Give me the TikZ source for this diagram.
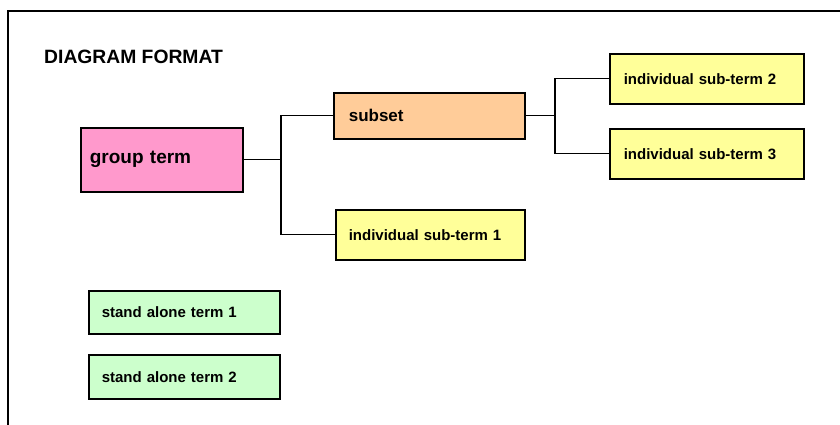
\documentclass[tikz,border=0pt]{standalone}
\usepackage{fontspec}
\setmainfont{Liberation Sans}
\usepackage{tikz}
\usetikzlibrary{calc}
\usepackage{xcolor}
\definecolor{groupPink}{HTML}{FF99CC}
\definecolor{subsetOrange}{HTML}{FFCC99}
\definecolor{subYellow}{HTML}{FFFF99}
\definecolor{aloneGreen}{HTML}{CCFFCC}

\begin{document}
\begin{tikzpicture}[x=1pt, y=-1pt,
    term/.style={draw, line width=1.6pt, rectangle, anchor=north west, align=left,
        inner ysep=0pt, font=\bfseries\fontsize{15}{18}\selectfont},
    link/.style={line width=1.1pt}]
    % Cadre de la page
    \useasboundingbox (0,0) rectangle (840,425);
    \draw[line width=2] (8,425) -- (8,11) -- (840,11);

    % Titre
    \node[anchor=west, inner sep=0pt, font=\bfseries\fontsize{19.3}{22}\selectfont] (title) at (44,57) {DIAGRAM FORMAT};

    % Terme de groupe et sous-ensemble
    \node[term, fill=groupPink, minimum height=64, text width=144, inner xsep=9,
        font=\bfseries\fontsize{19}{22}\selectfont] (group) at (80,127) {group term};
    \node[term, fill=subsetOrange, minimum height=46, text width=161, inner xsep=15,
        font=\bfseries\fontsize{17}{20}\selectfont] (subset) at (333,92) {subset};

    % Sous-termes individuels
    \node[term, fill=subYellow, minimum height=50, text width=163, inner xsep=13] (ind1) at (335,209) {individual sub-term 1};
    \node[term, fill=subYellow, minimum height=50, text width=166, inner xsep=14] (ind2) at (609,53) {individual sub-term 2};
    \node[term, fill=subYellow, minimum height=50, text width=166, inner xsep=14] (ind3) at (609,128) {individual sub-term 3};

    % Termes autonomes
    \node[term, fill=aloneGreen, minimum height=43, text width=165, inner xsep=13] (alone1) at (88,290) {stand alone term 1};
    \node[term, fill=aloneGreen, minimum height=44, text width=165, inner xsep=13] (alone2) at (88,354) {stand alone term 2};

    % Liaisons
    \coordinate (forkA) at (281,0);
    \coordinate (forkB) at (555,0);
    \draw[link] (group.east) -- (forkA |- group.east);
    \draw[link] (subset.west) -| (forkA |- ind1.west) -- (ind1.west);
    \draw[link] (subset.east) -- (forkB |- subset.east);
    \draw[link] (ind2.west) -| (forkB |- ind3.west) -- (ind3.west);
\end{tikzpicture}
\end{document}
